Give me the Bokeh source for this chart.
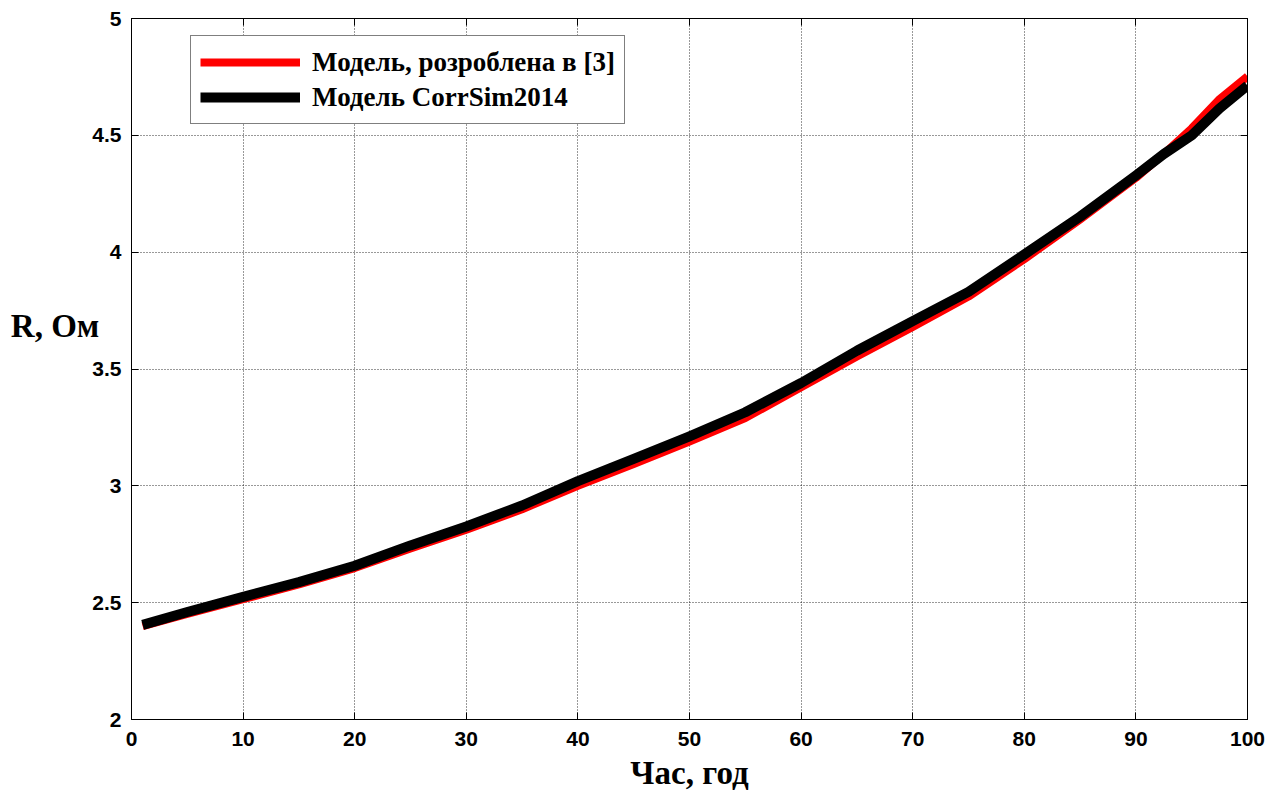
from bokeh.plotting import figure
from bokeh.models import LinearAxis, Range1d, Legend, LegendItem, FixedTicker, CustomJSTickFormatter
from bokeh.embed import file_html
from bokeh.resources import INLINE

# Data
years = [1, 5, 10, 15, 20, 25, 30, 35, 40, 45, 50, 55, 60, 65, 70, 75, 80, 85, 90, 92.5, 95, 97.5, 100]
r_model3 = [2.400, 2.452, 2.515, 2.578, 2.648, 2.732, 2.812, 2.900, 3.000, 3.093, 3.190, 3.290,
            3.422, 3.553, 3.680, 3.810, 3.970, 4.140, 4.318, 4.420, 4.530, 4.655, 4.752]
r_corrsim = [2.405, 2.460, 2.525, 2.588, 2.658, 2.745, 2.826, 2.916, 3.020, 3.115, 3.212, 3.315,
             3.440, 3.578, 3.705, 3.830, 3.990, 4.152, 4.328, 4.420, 4.500, 4.615, 4.713]
x_ticks = [0, 10, 20, 30, 40, 50, 60, 70, 80, 90, 100]
y_ticks = [2, 2.5, 3, 3.5, 4, 4.5, 5]
y_tick_labels = {2: "2", 2.5: "2.5", 3: "3", 3.5: "3.5", 4: "4", 4.5: "4.5", 5: "5"}
label_red = "Модель, розроблена в [3]"
label_black = "Модель CorrSim2014"
x_title = "Час, год"
y_title = "R, Ом"

W, H = 1265, 795
p = figure(width=W, height=H, output_backend="svg", toolbar_location=None,
           x_range=Range1d(0, 100), y_range=Range1d(2, 5),
           min_border_left=131, min_border_right=18, min_border_top=18, min_border_bottom=76)
p.background_fill_color = "white"
p.border_fill_color = "white"
p.outline_line_color = "black"
p.outline_line_width = 1

tick_font = "Liberation Sans"
serif = "Liberation Serif"

for ax in [p.xaxis[0], p.yaxis[0]]:
    ax.major_label_text_font = tick_font
    ax.major_label_text_font_style = "bold"
    ax.major_label_text_font_size = "21px"
    ax.major_label_text_color = "black"
    ax.major_tick_in = 7
    ax.major_tick_out = 0
    ax.minor_tick_line_color = None
    ax.axis_line_color = "black"
    ax.major_tick_line_color = "black"

p.xaxis[0].ticker = FixedTicker(ticks=x_ticks)
p.yaxis[0].ticker = FixedTicker(ticks=y_ticks)
p.yaxis[0].major_label_overrides = y_tick_labels
p.xaxis[0].major_label_standoff = 12
p.yaxis[0].major_label_standoff = 10

p.xaxis[0].axis_label = x_title
p.xaxis[0].axis_label_text_font = serif
p.xaxis[0].axis_label_text_font_style = "bold"
p.xaxis[0].axis_label_text_font_size = "33px"
p.xaxis[0].axis_label_text_color = "black"
p.xaxis[0].axis_label_standoff = 6

p.yaxis[0].axis_label = y_title + "\n\n"
p.yaxis[0].axis_label_orientation = "horizontal"
p.yaxis[0].axis_label_text_font = serif
p.yaxis[0].axis_label_text_font_style = "bold"
p.yaxis[0].axis_label_text_font_size = "33px"
p.yaxis[0].axis_label_text_color = "black"
p.yaxis[0].axis_label_text_align = "left"
p.yaxis[0].axis_label_standoff = -10

# mirrored axes with inward ticks and no labels
blank = CustomJSTickFormatter(code="return ''")
top = LinearAxis(ticker=FixedTicker(ticks=x_ticks), formatter=blank,
                 major_tick_in=7, major_tick_out=0, minor_tick_line_color=None,
                 axis_line_color="black", major_label_standoff=0)
right = LinearAxis(ticker=FixedTicker(ticks=y_ticks), formatter=blank,
                   major_tick_in=7, major_tick_out=0, minor_tick_line_color=None,
                   axis_line_color="black", major_label_standoff=0)
p.add_layout(top, "above")
p.add_layout(right, "right")

p.xgrid[0].ticker = FixedTicker(ticks=x_ticks)
p.ygrid[0].ticker = FixedTicker(ticks=y_ticks)
for g in [p.xgrid[0], p.ygrid[0]]:
    g.grid_line_color = "black"
    g.grid_line_alpha = 0.8
    g.grid_line_dash = "1 2"
    g.grid_line_width = 1

r1 = p.line(years, r_model3, line_color="#ff0000", line_width=8, line_join="round")
r2 = p.line(years, r_corrsim, line_color="black", line_width=10, line_join="round")

legend = Legend(items=[LegendItem(label=label_red, renderers=[r1]),
                       LegendItem(label=label_black, renderers=[r2])],
                location=(59, 595))
legend.label_text_font = serif
legend.label_text_font_style = "bold"
legend.label_text_font_size = "27px"
legend.label_text_color = "black"
legend.glyph_width = 100
legend.glyph_height = 34
legend.label_standoff = 12
legend.label_height = 34
legend.spacing = 1
legend.padding = 9
legend.margin = 0
legend.border_line_color = "black"
legend.border_line_width = 1
legend.background_fill_alpha = 1
p.add_layout(legend, "center")

open("out.html", "w").write(file_html(p, INLINE))
